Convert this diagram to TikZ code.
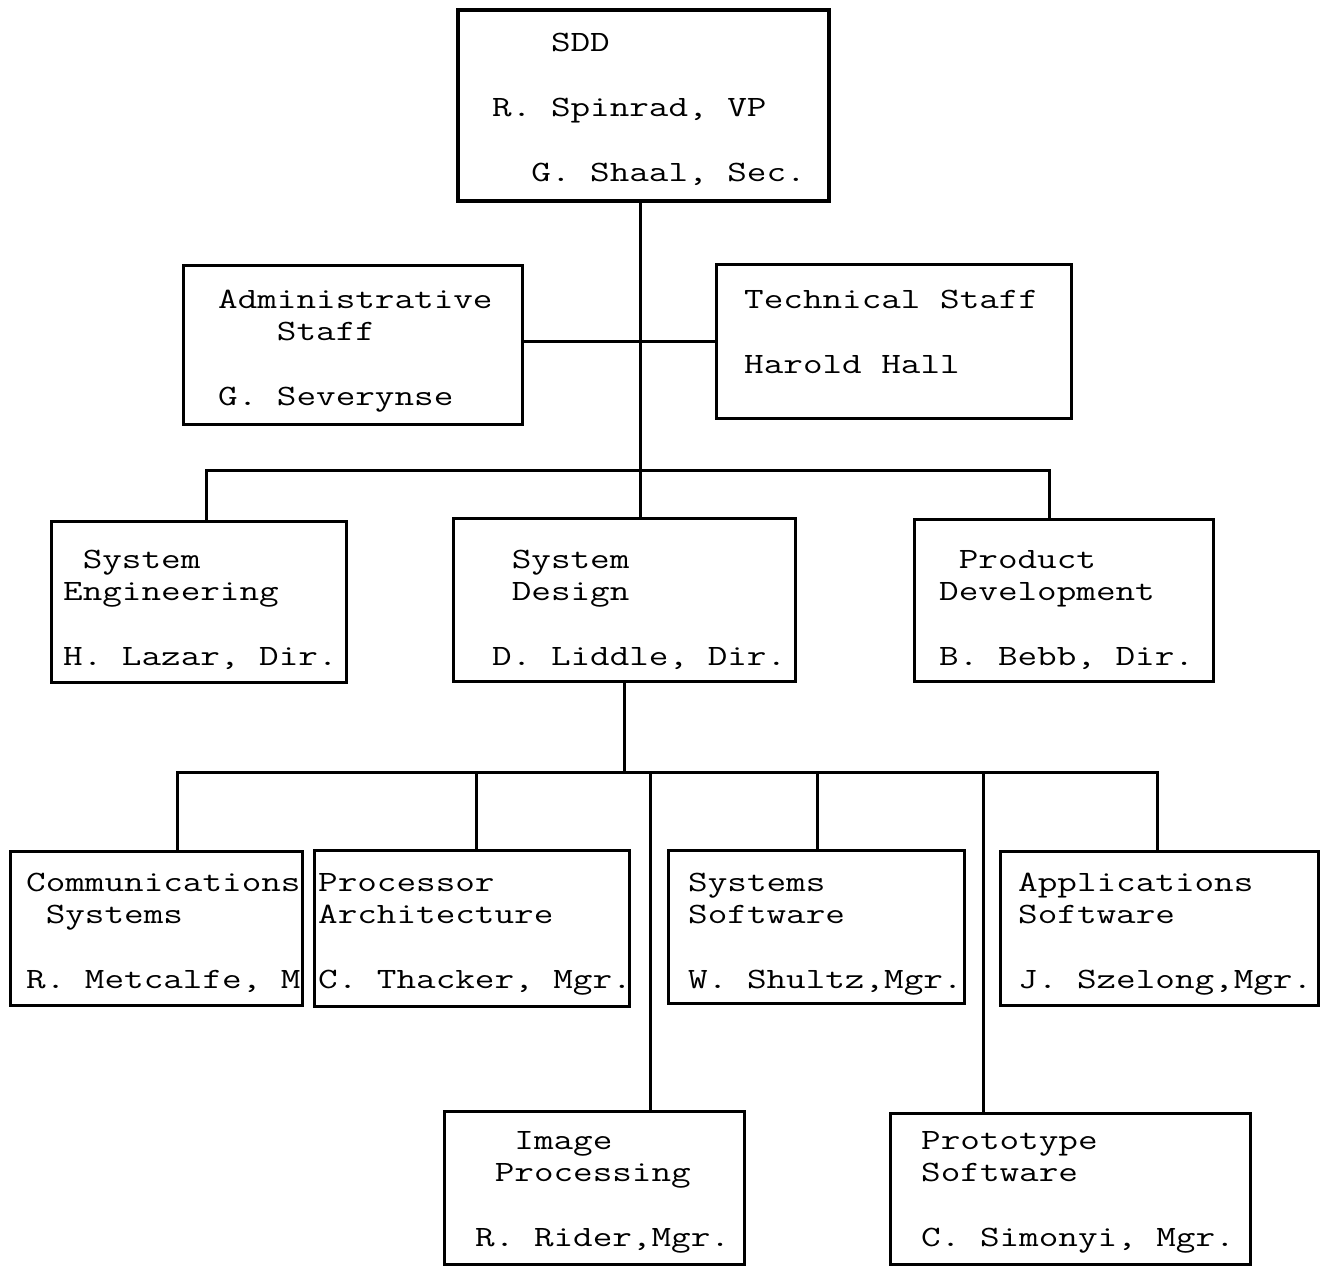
\documentclass[tikz,border=0pt]{standalone}
\usepackage{graphicx}
\newcommand{\typed}[1]{\scalebox{1.29}[1]{\begin{tabular}[t]{@{}l@{}}#1\end{tabular}}}
\tikzset{
  box/.style={draw, line width=3pt, inner sep=0pt},
  txt/.style={anchor=base west, inner sep=0pt, font=\fontsize{29.5}{32.5}\selectfont\ttfamily\frenchspacing},
  wire/.style={line width=3pt}
}
\begin{document}
\begin{tikzpicture}[x=1pt,y=-1pt]
  \useasboundingbox (0,0) rectangle (1327,1267);

  % boxes
  \node[box, line width=4.5pt, minimum width=371, minimum height=191] (sdd) at (643.5,105.5) {};
  \node[box, minimum width=339, minimum height=159] (admin) at (352.5,344.5) {};
  \node[box, minimum width=355, minimum height=154] (tech) at (893.5,341) {};
  \node[box, minimum width=295, minimum height=161] (syse) at (198.5,601.5) {};
  \node[box, minimum width=342, minimum height=163] (sysd) at (624,599.5) {};
  \node[box, minimum width=299, minimum height=162] (prod) at (1063.5,600) {};
  \node[box, minimum width=292, minimum height=154] (comm) at (156,928) {};
  \node[box, minimum width=315, minimum height=156] (proc) at (471.5,928) {};
  \node[box, minimum width=296, minimum height=153] (syssw) at (816,926.5) {};
  \node[box, minimum width=318, minimum height=154] (apps) at (1159,928) {};
  \node[box, minimum width=300, minimum height=153] (image) at (594,1187.5) {};
  \node[box, minimum width=360, minimum height=151] (proto) at (1070,1188.5) {};

  % texts
  \node[txt] (sdd-t) at (492,51) {\typed{~~~SDD\\ \\R. Spinrad, VP\\ \\~~G. Shaal, Sec.}};
  \node[txt] (admin-t) at (218,308) {\typed{Administrative\\~~~Staff\\ \\G. Severynse}};
  \node[txt] (tech-t) at (744,308) {\typed{Technical Staff\\ \\Harold Hall}};
  \node[txt] (syse-t) at (63,568) {\typed{~System\\Engineering\\ \\H. Lazar, Dir.}};
  \node[txt] (sysd-t) at (492,568) {\typed{~System\\~Design\\ \\D. Liddle, Dir.}};
  \node[txt] (prod-t) at (939,568) {\typed{~Product\\Development\\ \\B. Bebb, Dir.}};
  \node[txt] (comm-t) at (26,891) {\typed{Communications\\~Systems\\ \\R. Metcalfe, M}};
  \node[txt] (proc-t) at (318,891) {\typed{Processor\\Architecture\\ \\C. Thacker, Mgr.}};
  \node[txt] (syssw-t) at (688,891) {\typed{Systems\\Software\\ \\W. Shultz,Mgr.}};
  \node[txt] (apps-t) at (1018,891) {\typed{Applications\\Software\\ \\J. Szelong,Mgr.}};
  \node[txt] (image-t) at (475,1149) {\typed{~~Image\\~Processing\\ \\R. Rider,Mgr.}};
  \node[txt] (proto-t) at (921,1149) {\typed{Prototype\\Software\\ \\C. Simonyi, Mgr.}};

  % connectors
  \coordinate (bus1) at (640,470);
  \coordinate (bus2) at (623,772);
  \path ([xshift=-3.5]sdd.south) coordinate (sdd-out);
  \path ([xshift=7.5]syse.north) coordinate (syse-in);
  \path ([xshift=-14.5]prod.north) coordinate (prod-in);
  \path ([xshift=21]comm.north) coordinate (comm-in);
  \path ([xshift=4.5]proc.north) coordinate (proc-in);
  \path ([xshift=56]image.north) coordinate (image-in);
  \path ([xshift=1]syssw.north) coordinate (syssw-in);
  \path ([xshift=-87]proto.north) coordinate (proto-in);
  \path ([xshift=-2]apps.north) coordinate (apps-in);

  \draw[wire] (sdd-out) -- (sdd-out |- sysd.north);
  \draw[wire] (admin.east |- tech.west) -- (tech.west);
  \draw[wire] (syse-in) |- (bus1) -| (prod-in);

  \draw[wire] (sysd.south) -- (sysd.south |- bus2);
  \draw[wire] (comm-in) |- (apps-in |- bus2) -- (apps-in);
  \draw[wire] (proc-in) -- (proc-in |- bus2);
  \draw[wire] (image-in) -- (image-in |- bus2);
  \draw[wire] (syssw-in) -- (syssw-in |- bus2);
  \draw[wire] (proto-in) -- (proto-in |- bus2);
\end{tikzpicture}
\end{document}
